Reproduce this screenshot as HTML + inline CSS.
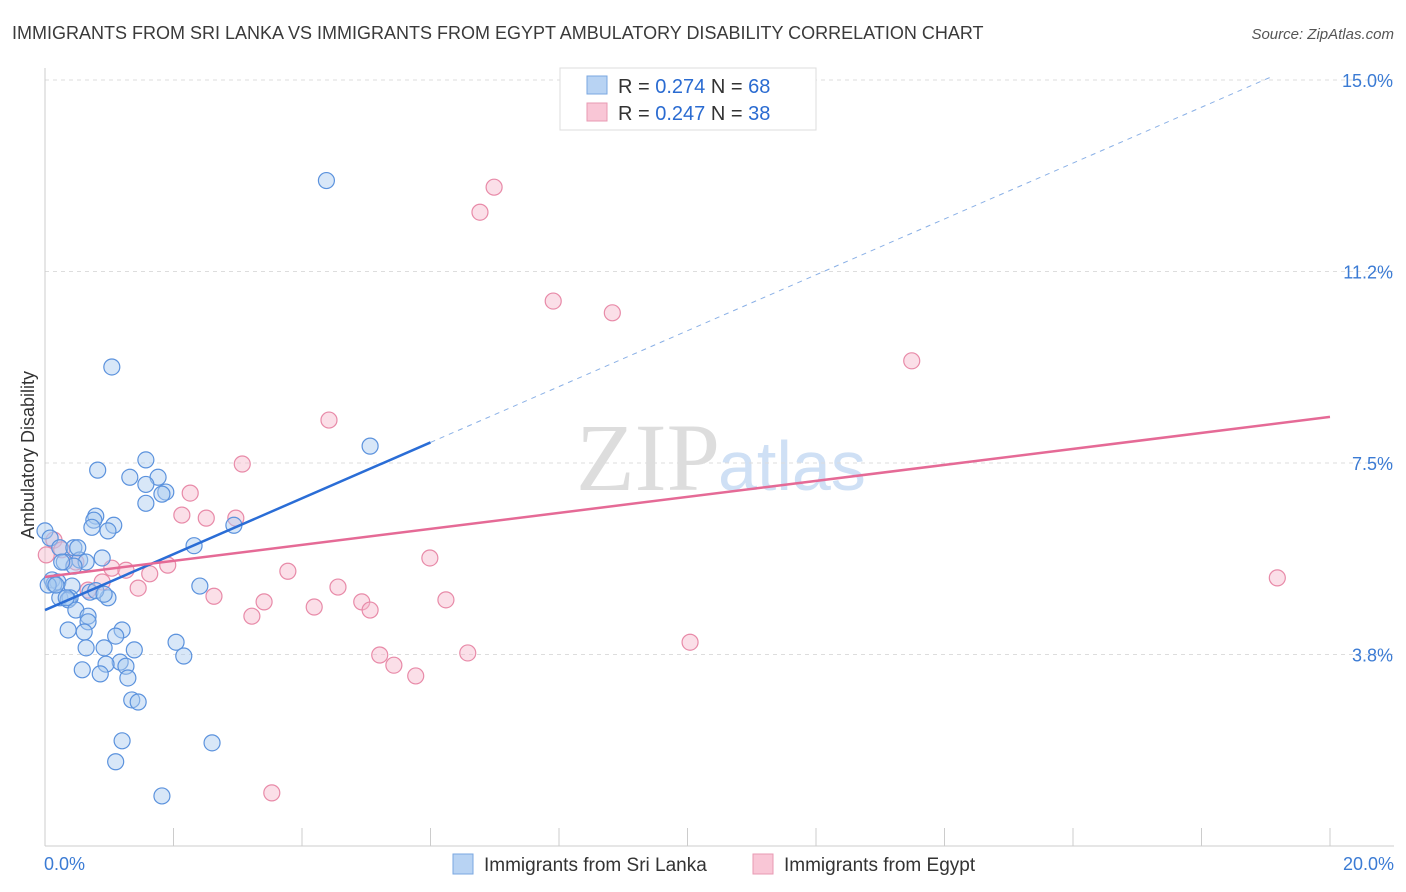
<!DOCTYPE html>
<html><head><meta charset="utf-8"><style>
body{margin:0;background:#fff;font-family:"Liberation Sans",sans-serif;}
svg{display:block}
</style></head><body>
<svg id="chart" width="1406" height="892" xmlns="http://www.w3.org/2000/svg">
<text x="12" y="39" font-size="18" fill="#3a3a3a">IMMIGRANTS FROM SRI LANKA VS IMMIGRANTS FROM EGYPT AMBULATORY DISABILITY CORRELATION CHART</text>
<text x="1394" y="39" font-size="15" fill="#555" font-style="italic" text-anchor="end">Source: ZipAtlas.com</text>
<text x="720" y="490" font-size="96" fill="#ddd" font-family="Liberation Serif,serif" text-anchor="end">ZIP</text>
<text x="718" y="490" font-size="70" fill="#cfe0f5">atlas</text>
<g id="grid"></g>
<g id="axes"></g>
<g id="marks"></g>
<text transform="translate(34,455) rotate(-90)" font-size="18" fill="#333" text-anchor="middle">Ambulatory Disability</text>
<g>
<rect x="560" y="68" width="256" height="62" fill="#fff" stroke="#ddd"/>
<rect x="587" y="76" width="20" height="18" fill="#b8d3f3" stroke="#7aa7e0"/>
<rect x="587" y="103" width="20" height="18" fill="#f9c6d6" stroke="#e89ab3"/>
<text x="618" y="93" font-size="20" fill="#333">R = <tspan fill="#2a6bd1">0.274</tspan>   N = <tspan fill="#2a6bd1">68</tspan></text>
<text x="618" y="120" font-size="20" fill="#333">R = <tspan fill="#2a6bd1">0.247</tspan>   N = <tspan fill="#2a6bd1">38</tspan></text>
</g>
<g>
<rect x="453" y="854" width="20" height="20" fill="#b8d3f3" stroke="#7aa7e0"/>
<text x="484" y="871" font-size="19" fill="#333">Immigrants from Sri Lanka</text>
<rect x="753" y="854" width="20" height="20" fill="#f9c6d6" stroke="#e89ab3"/>
<text x="784" y="871" font-size="19" fill="#333">Immigrants from Egypt</text>
</g>
</svg>
<script>
const yTicks=[3.75,7.5,11.25,15];
const yTickLabels=["3.8%","7.5%","11.2%","15.0%"];
const xTicks=[0,2,4,6,8,10,12,14,16,18,20];
const xEndLabels=["0.0%","20.0%"];
const blueX=[4.38,1.04,5.06,1.57,0.82,1.32,1.76,1.57,1.88,1.82,1.57,0.79,0.76,1.07,0.73,0.98,2.94,0,0.08,2.32,0.23,0.45,0.89,0.54,0.64,0.3,0.45,0.11,0.2,0.14,0.42,2.41,0.7,0.98,0.23,0.39,0.36,0.48,0.67,0.67,0.36,0.61,1.2,1.1,2.04,0.64,0.92,1.39,2.16,1.17,0.95,1.26,0.58,0.86,1.29,1.35,1.45,1.2,2.6,1.1,1.82,0.05,0.17,0.33,0.79,0.51,0.26,0.92];
const blueY=[13.03,9.38,7.83,7.56,7.36,7.22,7.22,7.08,6.93,6.89,6.71,6.46,6.38,6.28,6.24,6.17,6.28,6.17,6.03,5.88,5.84,5.84,5.64,5.6,5.56,5.56,5.48,5.21,5.17,5.13,5.09,5.09,4.97,4.86,4.86,4.86,4.82,4.62,4.5,4.39,4.23,4.19,4.23,4.11,3.99,3.88,3.88,3.84,3.72,3.6,3.56,3.52,3.45,3.37,3.29,2.86,2.82,2.06,2.02,1.65,0.98,5.11,5.11,4.86,5.0,5.84,5.56,4.93];
const pinkX=[6.99,6.77,7.91,8.83,13.49,4.42,3.07,2.26,2.13,2.51,2.97,0.14,0.26,0.02,0.48,5.99,1.91,1.04,1.26,1.63,3.78,0.89,0.67,1.45,4.56,2.63,3.41,6.24,4.19,4.93,5.06,3.22,10.04,5.21,5.43,6.58,5.77,19.18,3.53];
const pinkY=[12.9,12.41,10.67,10.44,9.5,8.34,7.48,6.91,6.48,6.42,6.42,5.99,5.8,5.7,5.56,5.64,5.5,5.44,5.4,5.33,5.38,5.17,5.01,5.05,5.07,4.89,4.78,4.82,4.68,4.78,4.62,4.5,3.99,3.74,3.54,3.78,3.33,5.25,1.04];
const blueFit=[4.62,0.547], pinkFit=[5.27,0.1566];
const X0=45,X1=1330,Y0=846,PY=51.07;
const xs=v=>X0+(X1-X0)*v/20, ys=v=>Y0-PY*v;
const NS="http://www.w3.org/2000/svg";
function mk(p,t,a){const e=document.createElementNS(NS,t);for(const k in a)e.setAttribute(k,a[k]);p.appendChild(e);return e;}
const grid=document.getElementById('grid'),axes=document.getElementById('axes'),marks=document.getElementById('marks');
yTicks.forEach((v,i)=>{
 const l=mk(grid,'line',{x1:X0,x2:1394,y1:ys(v),y2:ys(v),stroke:'#ddd','stroke-dasharray':'4,4'});
 
 
 const t=mk(axes,'text',{x:1393,y:ys(v)+7,'font-size':18,fill:'#3b7bd4','text-anchor':'end'});t.textContent=yTickLabels[i];
 
 
});
const ax=mk(axes,'line',{x1:X0,x2:1394,y1:Y0,y2:Y0,stroke:'#ccc'});


const ay=mk(axes,'line',{x1:X0,x2:X0,y1:68,y2:Y0,stroke:'#ccc'});


xTicks.forEach(v=>{const t=mk(axes,'line',{x1:xs(v),x2:xs(v),y1:828,y2:Y0,stroke:'#ccc'});
 
 });
[[0,'start',44],[20,'end',1394]].forEach((d,i)=>{const t=mk(axes,'text',{x:d[2],y:870,'font-size':18,fill:'#3b7bd4','text-anchor':d[1]});t.textContent=xEndLabels[i];
 
 });
function dots(X,Y,fill,stroke,name){X.forEach((x,i)=>{const c=mk(marks,'circle',{cx:xs(x),cy:ys(Y[i]),r:8,fill:fill,'fill-opacity':0.45,stroke:stroke,'stroke-width':1.2});
 
 });}
dots(pinkX,pinkY,'#f6b8cb','#e88aa8','egypt-point');
dots(blueX,blueY,'#a9c9f0','#5b92dd','sri-lanka-point');
const bl=mk(marks,'line',{x1:xs(0),y1:ys(blueFit[0]),x2:xs(6),y2:ys(blueFit[0]+6*blueFit[1]),stroke:'#2a6dd6','stroke-width':2.5});


const bd=mk(marks,'line',{x1:xs(6),y1:ys(blueFit[0]+6*blueFit[1]),x2:xs(19.1),y2:ys(blueFit[0]+19.1*blueFit[1]),stroke:'#8ab0e6','stroke-width':1,'stroke-dasharray':'5,5'});


const pl=mk(marks,'line',{x1:xs(0),y1:ys(pinkFit[0]),x2:xs(20),y2:ys(pinkFit[0]+20*pinkFit[1]),stroke:'#e56a96','stroke-width':2.5});


</script>
</body></html>
